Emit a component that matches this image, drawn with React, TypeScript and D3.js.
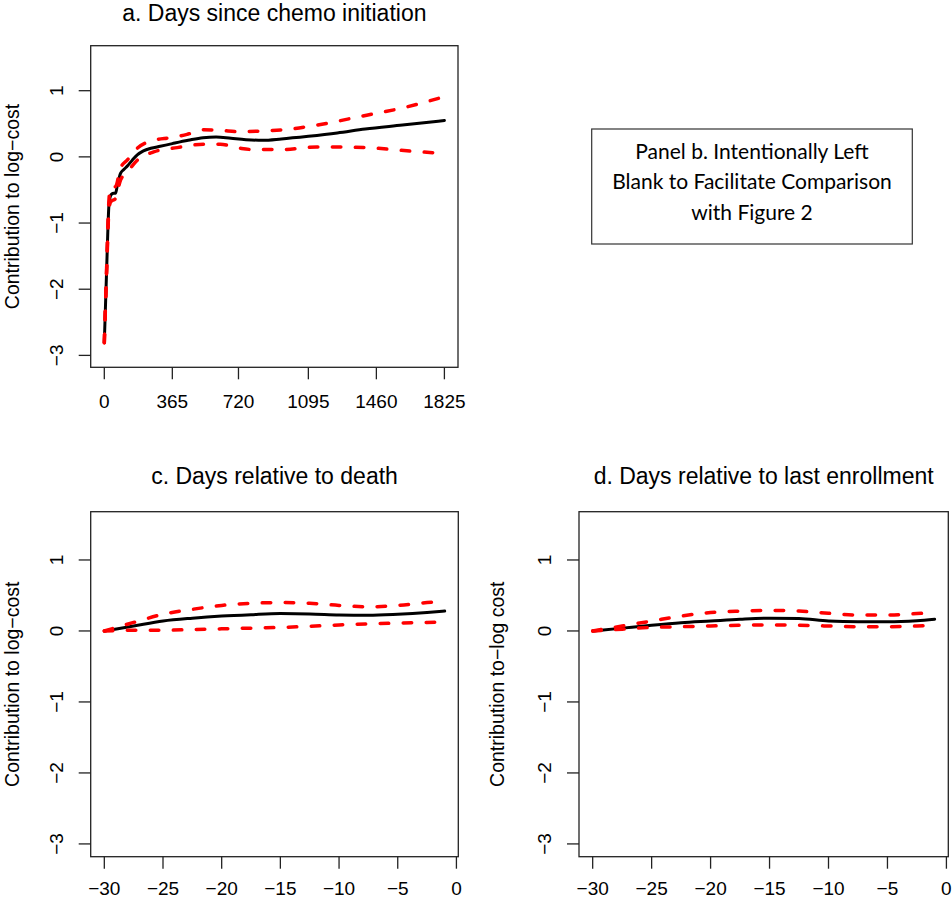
import React from "react";
import * as d3 from "d3";

// ---------- Data ----------
// Panel a: days since chemo initiation
const aDays = [0, 12, 25, 32, 40, 50, 60, 70, 87, 105, 123, 150, 177, 210, 250, 300, 365, 450, 530, 600, 680, 760, 850, 950, 1095, 1250, 1400, 1600, 1825];
const aFit = [-2.81, -1.75, -0.72, -0.6, -0.56, -0.55, -0.55, -0.43, -0.25, -0.19, -0.14, -0.05, 0.03, 0.09, 0.13, 0.16, 0.2, 0.25, 0.29, 0.3, 0.28, 0.26, 0.25, 0.27, 0.31, 0.36, 0.42, 0.48, 0.55];
const aUpDays = [0, 12, 25, 34, 60, 87, 123, 177, 265, 355, 444, 533, 622, 729, 836, 961, 1140, 1408, 1586, 1825];
const aUpper = [-2.81, -1.72, -0.65, -0.45, -0.45, -0.17, -0.05, 0.13, 0.25, 0.29, 0.34, 0.41, 0.4, 0.38, 0.39, 0.41, 0.48, 0.63, 0.73, 0.91];
const aLoDays = [0, 12, 25, 34, 60, 87, 123, 177, 265, 391, 533, 622, 729, 801, 961, 1140, 1408, 1586, 1825];
const aLower = [-2.81, -1.78, -0.8, -0.68, -0.63, -0.35, -0.23, -0.05, 0.075, 0.14, 0.19, 0.19, 0.13, 0.11, 0.11, 0.15, 0.14, 0.1, 0.05];
const aTicks = [0, 365, 720, 1095, 1460, 1825];

// Panels c and d: days relative to death / last enrollment
const relDays = [-30, -27.5, -25, -22.5, -20, -17.5, -15, -12.5, -10, -7.5, -5, -2.5, -1];
const cFit = [0, 0.07, 0.14, 0.18, 0.21, 0.23, 0.245, 0.24, 0.225, 0.22, 0.235, 0.26, 0.28];
const cUpper = [0, 0.12, 0.235, 0.305, 0.36, 0.39, 0.4, 0.39, 0.36, 0.34, 0.36, 0.4, 0.42];
const cLower = [0, 0.01, 0.01, 0.02, 0.03, 0.04, 0.05, 0.065, 0.085, 0.1, 0.11, 0.12, 0.125];
const dFit = [0, 0.04, 0.08, 0.115, 0.14, 0.165, 0.18, 0.175, 0.14, 0.13, 0.13, 0.145, 0.165];
const dUpper = [0, 0.07, 0.14, 0.21, 0.26, 0.28, 0.29, 0.28, 0.25, 0.225, 0.225, 0.245, 0.26];
const dLower = [0, 0.025, 0.05, 0.06, 0.07, 0.08, 0.085, 0.08, 0.07, 0.06, 0.06, 0.07, 0.08];
const relTicks = [-30, -25, -20, -15, -10, -5, 0];

const yTicks = [-3, -2, -1, 0, 1];
const yLim: [number, number] = [-3, 1.5];

const titles = ["a. Days since chemo initiation", "c. Days relative to death", "d. Days relative to last enrollment"];
const yLabels = ["Contribution to log\u2212cost", "Contribution to log\u2212cost", "Contribution to\u2212log cost"];
const blankText = ["Panel b. Intentionally Left", "Blank to Facilitate Comparison", "with Figure 2"];

const FONT = "'Liberation Sans', Arial, sans-serif";
const fmt = (v: number) => (v < 0 ? "\u2212" + Math.abs(v) : String(v));

function ext([a, b]: [number, number]): [number, number] {
  const d = (b - a) * 0.04;
  return [a - d, b + d];
}

type Series = { xs: number[]; ys: number[] };

function Panel(props: {
  x0: number; x1: number; y0: number; y1: number;
  xData: [number, number]; xTicks: number[];
  fit: Series; upper: Series; lower: Series;
  title: string; ylabel: string;
}) {
  const { x0, x1, y0, y1 } = props;
  const xs = d3.scaleLinear().domain(ext(props.xData)).range([x0, x1]);
  const ys = d3.scaleLinear().domain(ext(yLim)).range([y1, y0]);
  const mk = (s: Series) =>
    d3.line<number>()
      .x((_, i) => xs(s.xs[i]))
      .y((v) => ys(v))
      .curve(d3.curveMonotoneX)(s.ys) || "";
  const cx = (x0 + x1) / 2;
  const cy = (y0 + y1) / 2;
  const labelY = Math.min(y1 + 41, 895);
  const titleY = Math.max(y0 - 28, 21);
  const ylabX = Math.max(x0 - 75, 18.5);
  return (
    <g fontFamily={FONT} fill="#000">
      <text x={cx} y={titleY} textAnchor="middle" fontSize={23}>{props.title}</text>
      <rect x={x0} y={y0} width={x1 - x0} height={y1 - y0} fill="none" stroke="#222" strokeWidth={1.3} />
      {props.xTicks.map((t) => (
        <g key={"x" + t}>
          <line x1={xs(t)} x2={xs(t)} y1={y1} y2={y1 + 12} stroke="#222" strokeWidth={1.3} />
          <text x={xs(t)} y={labelY} textAnchor="middle" fontSize={19}>{fmt(t)}</text>
        </g>
      ))}
      {yTicks.map((t) => (
        <g key={"y" + t}>
          <line x1={x0 - 12} x2={x0} y1={ys(t)} y2={ys(t)} stroke="#222" strokeWidth={1.3} />
          <text transform={`translate(${x0 - 28},${ys(t)}) rotate(-90)`} textAnchor="middle" fontSize={19}>{fmt(t)}</text>
        </g>
      ))}
      <text transform={`translate(${ylabX},${cy}) rotate(-90)`} textAnchor="middle" fontSize={19.5}>{props.ylabel}</text>
      <path d={mk(props.fit)} fill="none" stroke="#000" strokeWidth={3} strokeLinejoin="round" strokeLinecap="round" />
      <path d={mk(props.upper)} fill="none" stroke="#ff0000" strokeWidth={3.5} strokeDasharray="8.5 14.5" strokeLinecap="round" />
      <path d={mk(props.lower)} fill="none" stroke="#ff0000" strokeWidth={3.5} strokeDasharray="8.5 14.5" strokeLinecap="round" />
    </g>
  );
}

export default function App() {
  return (
    <svg width={952} height={899} style={{ position: "absolute", left: 0, top: 0, background: "#fff" }}>
      <rect x={0} y={0} width={952} height={899} fill="#fff" />
      <Panel x0={90.7} x1={458} y0={45.7} y1={367.3} xData={[0, 1825]} xTicks={aTicks}
        fit={{ xs: aDays, ys: aFit }} upper={{ xs: aUpDays, ys: aUpper }} lower={{ xs: aLoDays, ys: aLower }}
        title={titles[0]} ylabel={yLabels[0]} />
      <Panel x0={90.7} x1={458.3} y0={511.7} y1={856.7} xData={[-30, -1]} xTicks={relTicks}
        fit={{ xs: relDays, ys: cFit }} upper={{ xs: relDays, ys: cUpper }} lower={{ xs: relDays, ys: cLower }}
        title={titles[1]} ylabel={yLabels[1]} />
      <Panel x0={579} x1={948.3} y0={511.7} y1={856.7} xData={[-30, -1]} xTicks={relTicks}
        fit={{ xs: relDays, ys: dFit }} upper={{ xs: relDays, ys: dUpper }} lower={{ xs: relDays, ys: dLower }}
        title={titles[2]} ylabel={yLabels[2]} />
      <g>
        <rect x={591.7} y={129} width={320.6} height={115} fill="none" stroke="#333" strokeWidth={1.2} />
        {blankText.map((s, i) => (
          <text key={i} x={752} y={158.5 + i * 30.6} textAnchor="middle" fontSize={21} fontFamily="Lato, 'Open Sans', sans-serif" fill="#000">{s}</text>
        ))}
      </g>
    </svg>
  );
}
